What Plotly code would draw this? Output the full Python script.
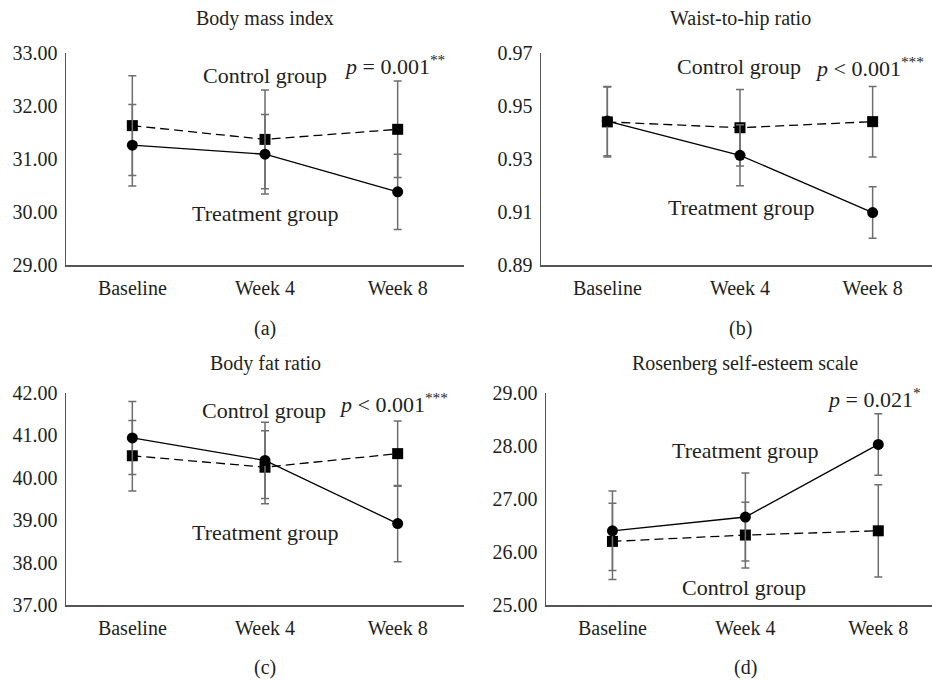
import plotly.graph_objects as go

W, H = 932, 680
categories = ["Baseline", "Week 4", "Week 8"]

# (a) Body mass index
bmi_treat = [31.26, 31.09, 30.38]
bmi_treat_sd = [0.77, 0.75, 0.71]
bmi_ctrl = [31.63, 31.37, 31.56]
bmi_ctrl_sd = [0.94, 0.93, 0.91]

# (b) Waist-to-hip ratio
whr_treat = [0.9443, 0.9314, 0.9098]
whr_treat_sd = [0.0131, 0.0115, 0.0097]
whr_ctrl = [0.9440, 0.9418, 0.9441]
whr_ctrl_sd = [0.0132, 0.0144, 0.0133]

# (c) Body fat ratio
bfr_treat = [40.94, 40.41, 38.92]
bfr_treat_sd = [0.86, 0.90, 0.90]
bfr_ctrl = [40.52, 40.25, 40.57]
bfr_ctrl_sd = [0.83, 0.86, 0.77]

# (d) Rosenberg self-esteem scale
rse_treat = [26.40, 26.66, 28.03]
rse_treat_sd = [0.75, 0.83, 0.58]
rse_ctrl = [26.20, 26.32, 26.40]
rse_ctrl_sd = [0.72, 0.62, 0.87]

titles = ["Body mass index", "Waist-to-hip ratio", "Body fat ratio", "Rosenberg self-esteem scale"]
panel_labels = ["(a)", "(b)", "(c)", "(d)"]
p_texts = ["<i>p</i> = 0.001<sup>**</sup>", "<i>p</i> < 0.001<sup>***</sup>",
           "<i>p</i> < 0.001<sup>***</sup>", "<i>p</i> = 0.021<sup>*</sup>"]
y_ranges = [(29, 33), (0.89, 0.97), (37, 42), (25, 29)]
y_dticks = [1, 0.02, 1, 1]

FONT = "Liberation Serif"
TXT = "#231f20"
ERR = "#6e6e6e"
AX = "#555555"

panels = [
    (bmi_treat, bmi_treat_sd, bmi_ctrl, bmi_ctrl_sd),
    (whr_treat, whr_treat_sd, whr_ctrl, whr_ctrl_sd),
    (bfr_treat, bfr_treat_sd, bfr_ctrl, bfr_ctrl_sd),
    (rse_treat, rse_treat_sd, rse_ctrl, rse_ctrl_sd),
]

# pixel layout of each panel: x-axis left, x-axis right, top (y max), bottom (y min), x-range end
geo = [
    (66, 464, 53, 265, 2.5),
    (541, 932, 53, 265, 2.4475),
    (66, 464, 393, 605, 2.5),
    (546, 932, 393, 605, 2.404),
]

fig = go.Figure()
layout = {}
for i, ((tr, trs, ct, cts), (x0, x1, yt, yb, xend)) in enumerate(zip(panels, geo)):
    n = "" if i == 0 else str(i + 1)
    xa, ya = "x" + n, "y" + n
    fig.add_trace(go.Scatter(
        x=categories, y=ct, xaxis=xa, yaxis=ya, mode="lines+markers",
        line=dict(color="black", width=1.3, dash="9px,5px"),
        marker=dict(symbol="square", size=11, color="black"),
        error_y=dict(type="data", array=cts, color=ERR, thickness=1.5, width=4),
        showlegend=False, hoverinfo="skip"))
    fig.add_trace(go.Scatter(
        x=categories, y=tr, xaxis=xa, yaxis=ya, mode="lines+markers",
        line=dict(color="black", width=1.3),
        marker=dict(symbol="circle", size=11, color="black"),
        error_y=dict(type="data", array=trs, color=ERR, thickness=1.5, width=4),
        showlegend=False, hoverinfo="skip"))
    layout["xaxis" + n] = dict(
        domain=[x0 / W, x1 / W], anchor=ya, type="category",
        categoryorder="array", categoryarray=categories,
        range=[-0.5, xend], showline=True, linecolor=AX, linewidth=1.5,
        showgrid=False, zeroline=False, ticks="", ticklabelstandoff=4,
        tickfont=dict(family=FONT, size=20, color=TXT))
    lo, hi = y_ranges[i]
    layout["yaxis" + n] = dict(
        domain=[1 - yb / H, 1 - yt / H], anchor=xa, range=[lo, hi],
        tick0=lo, dtick=y_dticks[i], tickformat=".2f",
        showline=True, linecolor=AX, linewidth=1.5,
        showgrid=False, zeroline=False, ticks="", ticklabelstandoff=3,
        tickfont=dict(family=FONT, size=20, color=TXT))

ann = []
def add(text, x, y, size, xanchor="center"):
    ann.append(dict(text=text, x=x / W, y=1 - y / H, xref="paper", yref="paper",
                    showarrow=False, xanchor=xanchor, yanchor="middle", borderpad=0,
                    font=dict(family=FONT, size=size, color=TXT)))

title_pos = [(265, 18), (740, 18), (265, 363), (745, 363)]
label_pos = [(265, 328), (740, 328), (265, 667), (745, 667)]
for t, (x, y) in zip(titles, title_pos):
    add(t, x, y, 20)
for t, (x, y) in zip(panel_labels, label_pos):
    add(t, x, y, 20)

# group labels and p values
add("Control group", 265, 75, 22)
add("Treatment group", 265, 213, 22)
add(p_texts[0], 446, 65, 22, "right")
add("Control group", 739, 67, 22)
add("Treatment group", 741, 207, 22)
add(p_texts[1], 925, 67, 22, "right")
add("Control group", 264, 410, 22)
add("Treatment group", 265, 532, 22)
add(p_texts[2], 449, 403, 22, "right")
add("Treatment group", 745, 450, 22)
add("Control group", 744, 587, 22)
add(p_texts[3], 922, 398, 22, "right")

fig.update_layout(**layout)
fig.update_layout(width=W, height=H, margin=dict(l=0, r=0, t=0, b=0, autoexpand=False),
                  font=dict(family=FONT, color=TXT), hovermode=False,
                  paper_bgcolor="white", plot_bgcolor="white", annotations=ann)
fig.write_html("out.html", config={"displayModeBar": False, "staticPlot": True},
               post_script="document.body.style.margin='0';document.body.style.padding='0';")
